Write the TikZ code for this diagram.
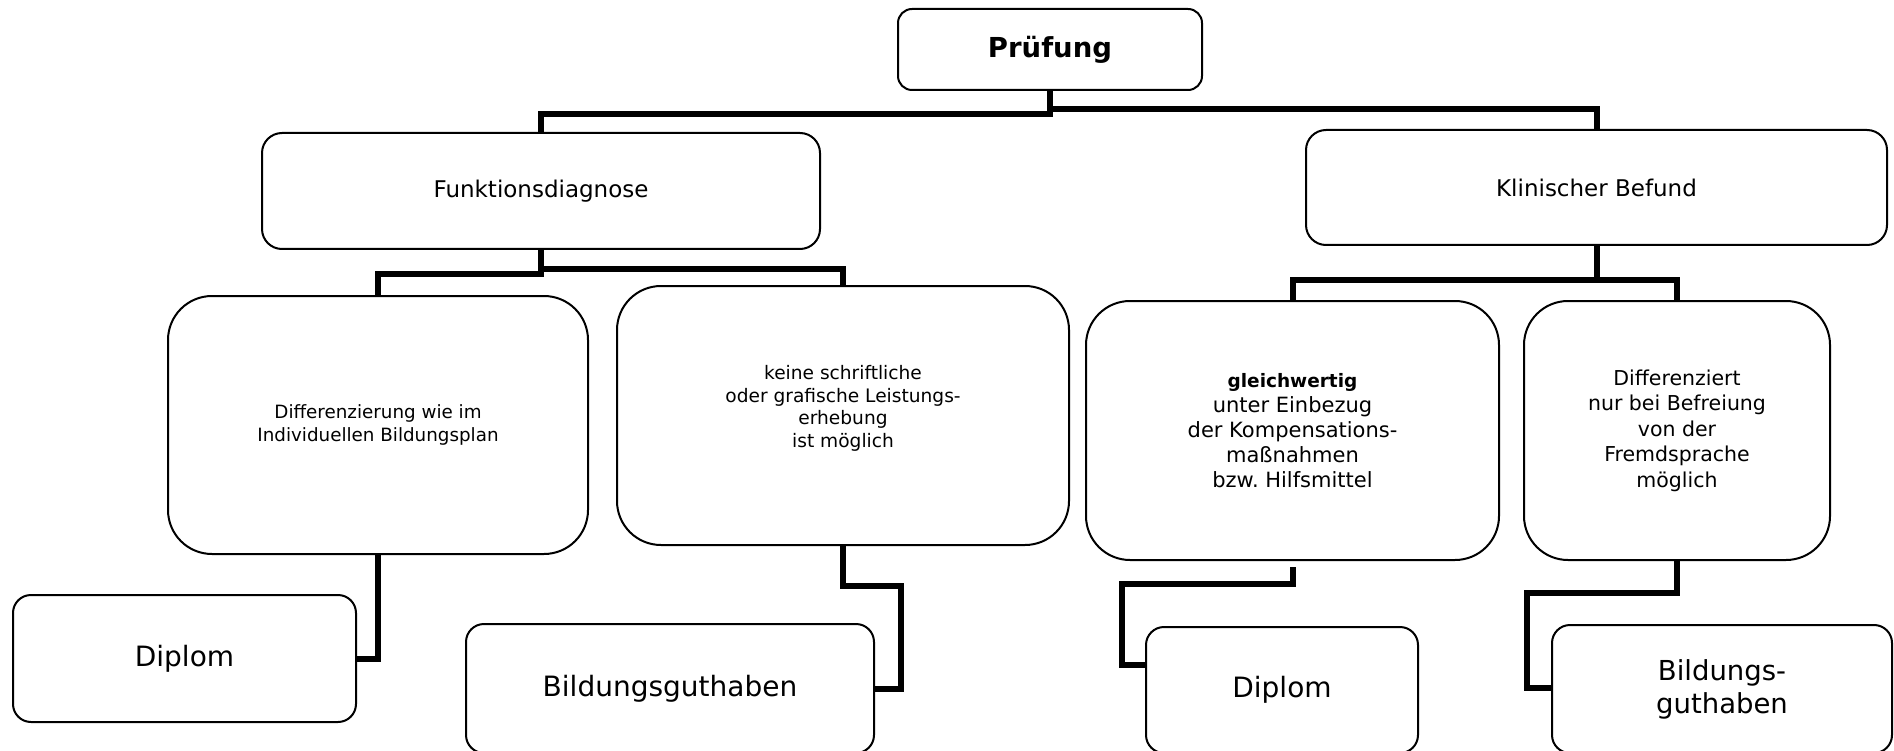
\documentclass[tikz,border=0pt]{standalone}
\usepackage{fontspec}
\setmainfont{DejaVu Sans}
\frenchspacing
\usetikzlibrary{calc}
\tikzset{
  box/.style={draw=black, line width=2pt, rectangle, rounded corners=#1, align=center, inner sep=0pt, fill=white},
  box/.default=16pt,
  conn/.style={draw=black, line width=6pt, line join=miter, line cap=butt},
}
\begin{document}
\begin{tikzpicture}[x=1pt, y=-1pt]
\useasboundingbox (0,0) rectangle (1894,751);
% nodes
\node[box=14pt, minimum width=304pt, minimum height=81pt, font=\fontsize{27.5}{32}\selectfont\bfseries] (P) at (1050,49.5) {Prüfung};
\node[box=20pt, minimum width=558pt, minimum height=116pt, font=\fontsize{23}{28}\selectfont] (F) at (541,191) {Funktionsdiagnose};
\node[box=20pt, minimum width=581pt, minimum height=115pt, font=\fontsize{23}{28}\selectfont] (K) at (1596.5,187.5) {Klinischer Befund};
\node[box=44pt, minimum width=420pt, minimum height=258pt, font=\fontsize{18.3}{23}\selectfont] (A) at (378,425) {Differenzierung wie im\\Individuellen Bildungsplan};
\node[box=44pt, minimum width=452pt, minimum height=259pt,
  label={[font=\fontsize{18.6}{22.7}\selectfont, align=center, yshift=7pt]center:{keine schriftliche\\oder grafische Leistungs-\\erhebung\\ist möglich}}] (B) at (843,415.5) {};
\node[box=44pt, minimum width=413pt, minimum height=259pt, font=\fontsize{21}{25}\selectfont] (C) at (1292.5,430.5) {{\fontsize{18.5}{25}\selectfont\bfseries gleichwertig}\\unter Einbezug\\der Kompensations-\\maßnahmen\\bzw. Hilfsmittel};
\node[box=44pt, minimum width=306pt, minimum height=259pt, font=\fontsize{20.5}{25.5}\selectfont] (D) at (1677,430.5) {Differenziert\\nur bei Befreiung\\von der\\Fremdsprache\\möglich};
\node[box=18pt, minimum width=343pt, minimum height=127pt, font=\fontsize{28}{33}\selectfont] (dip1) at (184.5,658.5) {Diplom};
\node[box=18pt, minimum width=408pt, minimum height=129pt, font=\fontsize{28}{33}\selectfont] (bild1) at (670,688.5) {Bildungsguthaben};
\node[box=18pt, minimum width=272pt, minimum height=126pt, font=\fontsize{28}{33}\selectfont] (dip2) at (1282,690) {Diplom};
\node[box=18pt, minimum width=340pt, minimum height=128pt, font=\fontsize{27.5}{33}\selectfont] (bild2) at (1722,689) {Bildungs-\\guthaben};
% connectors
\draw[conn] (P.south) -- ++(0,23) -| (F.north);
\draw[conn] (P.south) -- ++(0,18) -| (K.north);
\draw[conn] (F.south) -- ++(0,24) -| (A.north);
\draw[conn] (F.south) -- ++(0,19) -| (B.north);
\draw[conn] (K.south) -- ++(0,34) -| (C.north);
\draw[conn] (K.south) -- ++(0,34) -| (D.north);
\draw[conn] (A.south) |- (dip1.east);
\draw[conn] (B.south) -- ++(0,40) -| ($(bild1.east)+(26,0)$) -- (bild1.east);
\draw[conn] ($(C.south)+(0,6)$) -- ++(0,17) -| ($(dip2.west)+(-23,-25)$) -- ($(dip2.west)+(0,-25)$);
\draw[conn] (D.south) -- ++(0,32) -| ($(bild2.west)+(-24,-1)$) -- ($(bild2.west)+(0,-1)$);
\end{tikzpicture}
\end{document}
